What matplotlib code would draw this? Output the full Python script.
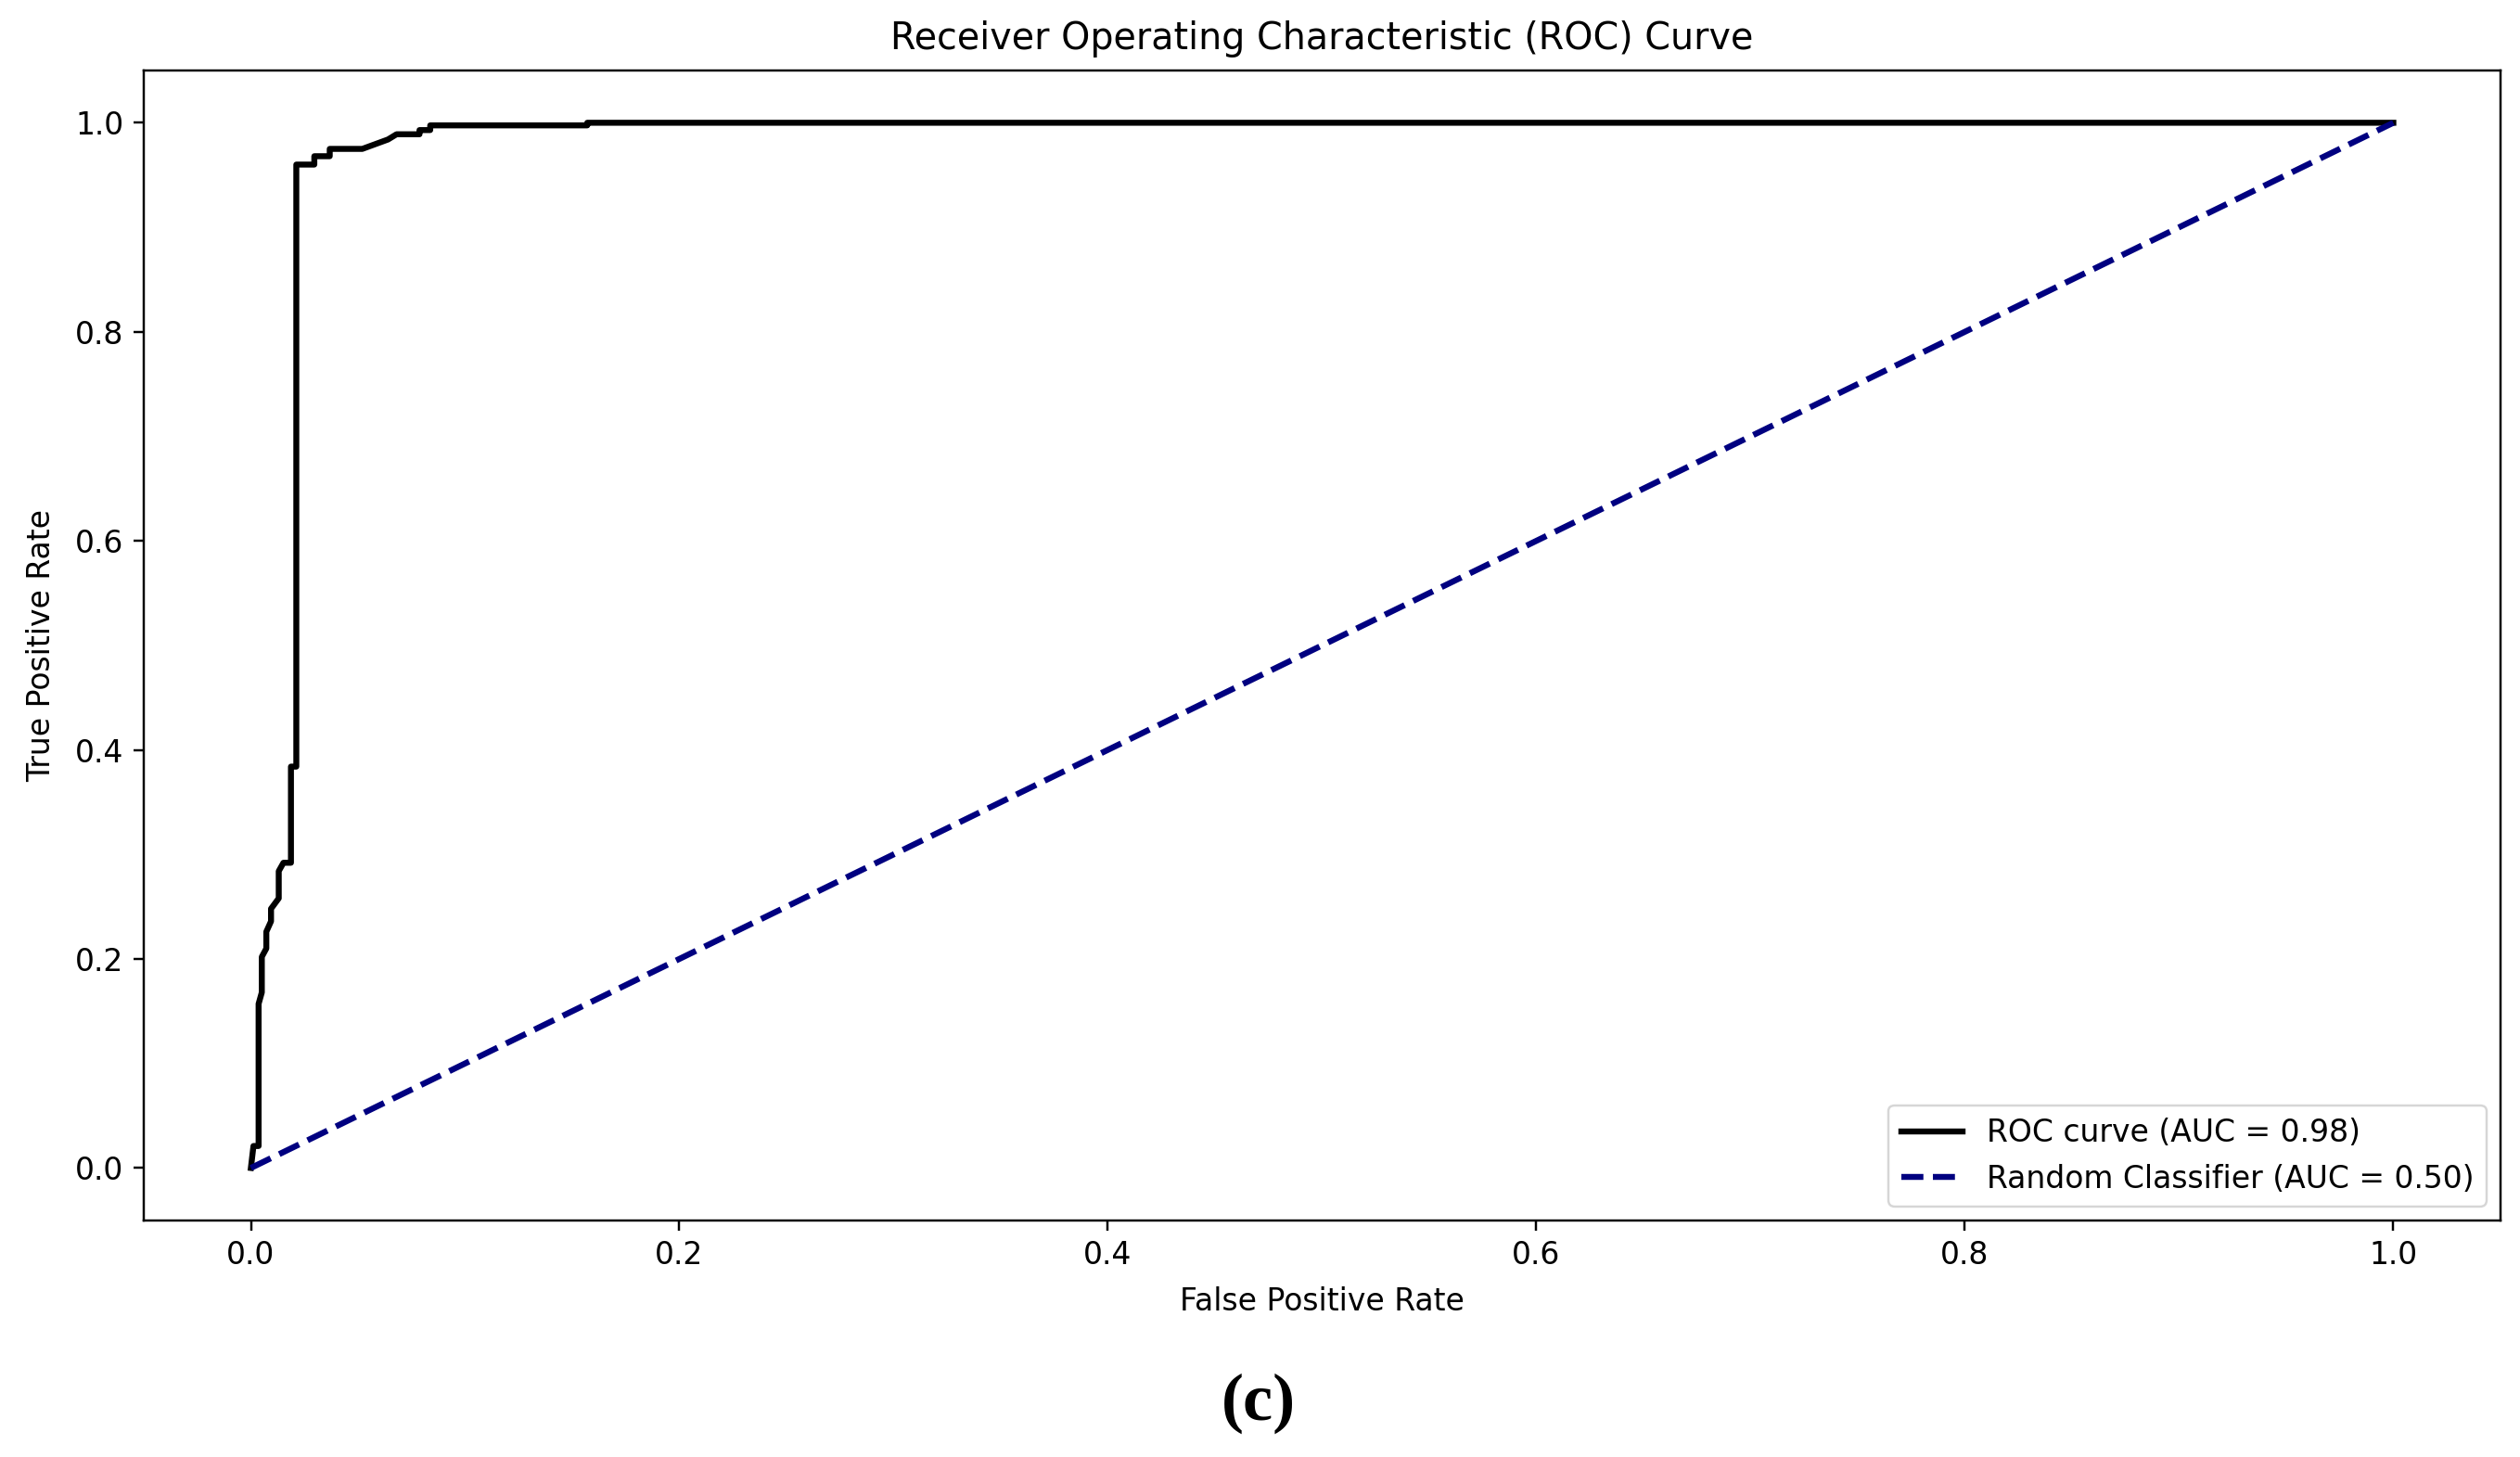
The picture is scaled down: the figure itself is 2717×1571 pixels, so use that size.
import matplotlib
matplotlib.use("Agg")
import matplotlib.pyplot as plt

fpr = [0.0, 0.0012, 0.0036, 0.0036, 0.0051, 0.0051, 0.0072, 0.0072, 0.0094, 0.0094,
       0.0130, 0.0130, 0.0152, 0.0187, 0.0187, 0.0212, 0.0212, 0.0296, 0.0296, 0.0368,
       0.0368, 0.0520, 0.0560, 0.0600, 0.0640, 0.0680, 0.0787, 0.0787, 0.0837, 0.0837,
       0.1570, 0.1570, 1.0]
tpr = [0.0, 0.021, 0.021, 0.157, 0.168, 0.202, 0.210, 0.226, 0.236, 0.248,
       0.258, 0.284, 0.292, 0.292, 0.384, 0.384, 0.960, 0.960, 0.968, 0.968,
       0.975, 0.975, 0.978, 0.981, 0.984, 0.989, 0.989, 0.993, 0.993, 0.9975,
       0.9975, 1.0, 1.0]
diag = [0.0, 1.0]
roc_auc = 0.98
rand_auc = 0.50

s = 2.2
fs = 2.38
fig = plt.figure(figsize=(27.17, 15.71), dpi=100)
ax = fig.add_axes([0.05705, 0.16251, 0.9352, 0.7891])
ax.plot(fpr, tpr, color="black", lw=2.1 * s, label=f"ROC curve (AUC = {roc_auc:.2f})")
ax.plot(diag, diag, color="navy", lw=2.1 * s, linestyle="--",
        label=f"Random Classifier (AUC = {rand_auc:.2f})")
ax.set_xlim(-0.05, 1.05)
ax.set_ylim(-0.05, 1.05)
ax.set_xticks([0.0, 0.2, 0.4, 0.6, 0.8, 1.0])
ax.set_yticks([0.0, 0.2, 0.4, 0.6, 0.8, 1.0])
ax.tick_params(labelsize=10 * fs, length=3.5 * s, width=0.8 * s, pad=3.5 * s)
for sp in ax.spines.values():
    sp.set_linewidth(0.8 * s)
ax.set_xlabel("False Positive Rate", fontsize=10 * fs, labelpad=5.5 * s)
ax.set_ylabel("True Positive Rate", fontsize=10 * fs, labelpad=6.5 * s)
ax.set_title("Receiver Operating Characteristic (ROC) Curve", fontsize=12 * fs, pad=7.5 * s)
leg = ax.legend(loc="lower right", fontsize=10 * fs, borderaxespad=0.45, handlelength=2.0)
leg.get_frame().set_linewidth(0.8 * s)
fig.text(0.4995, 0.037, "(c)", fontsize=52, fontweight="bold",
         family=["Liberation Serif", "DejaVu Serif"], ha="center", va="center")
fig.savefig("out.png", dpi=100)
